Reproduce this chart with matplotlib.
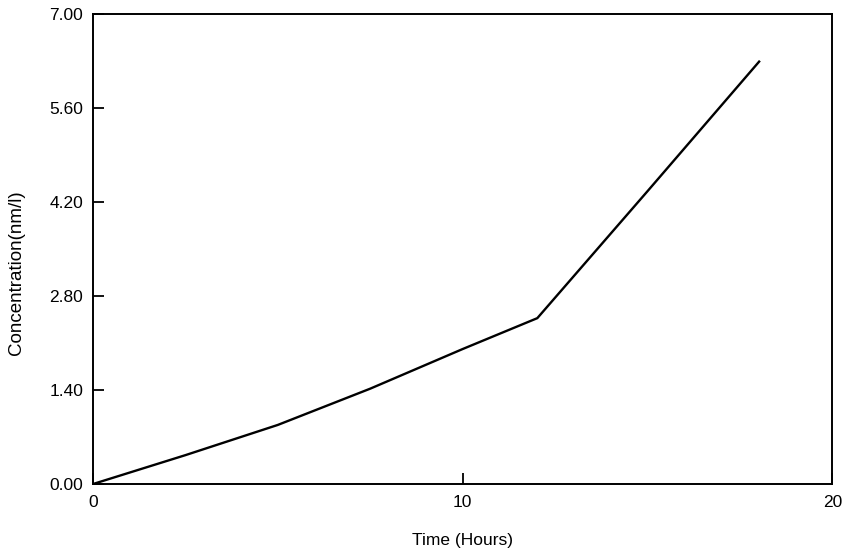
import matplotlib
matplotlib.use("Agg")
import matplotlib.pyplot as plt

plt.rcParams['font.family'] = ['Liberation Sans', 'DejaVu Sans']

time_hours = [0.0, 2.5, 5.0, 7.5, 10.0, 12.02, 15.0, 18.02]
concentration = [0.0, 0.43, 0.88, 1.42, 2.01, 2.47, 4.36, 6.29]

x_ticks = [0, 10, 20]
y_ticks = [0.0, 1.4, 2.8, 4.2, 5.6, 7.0]
y_tick_labels = ["0.00", "1.40", "2.80", "4.20", "5.60", "7.00"]

fig = plt.figure(figsize=(8.45, 5.57), dpi=100)
ax = fig.add_axes([0.110, 0.131, 0.875, 0.844])

ax.plot(time_hours, concentration, color='black', linewidth=1.7,
        solid_joinstyle='round')

ax.set_xlim(0, 20)
ax.set_ylim(0, 7.0)
ax.set_xticks(x_ticks)
ax.set_xticklabels([str(t) for t in x_ticks])
ax.set_yticks(y_ticks)
ax.set_yticklabels(y_tick_labels)

ax.tick_params(axis='both', direction='in', length=8, width=1.3,
               labelsize=12.5, colors='black')
ax.tick_params(axis='y', pad=7)
ax.tick_params(axis='x', pad=8)

for s in ax.spines.values():
    s.set_linewidth(1.4)
    s.set_color('black')

ax.set_xlabel("Time (Hours)", fontsize=12.5)
ax.set_ylabel("Concentration(nm/l)", fontsize=13.5)
ax.xaxis.set_label_coords(0.5, -0.105)
ax.yaxis.set_label_coords(-0.092, 0.45)

fig.savefig("out.png", dpi=100)
